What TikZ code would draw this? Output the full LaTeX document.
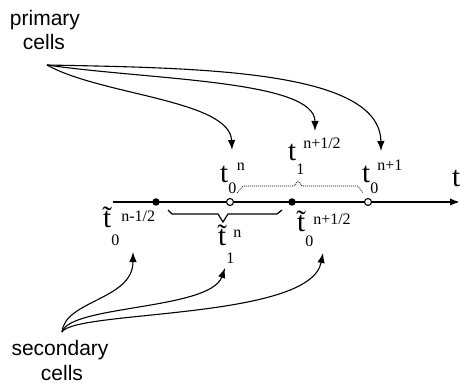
\documentclass[tikz,border=0pt]{standalone}
\usepackage{fontspec}
\setmainfont{Liberation Serif}
\newfontfamily\cellfont{Liberation Sans}
\usetikzlibrary{calc}
\usetikzlibrary{arrows,arrows.meta}
\tikzset{>={Latex[length=10pt,width=7.5pt]}}
\colorlet{axiscol}{black}
\tikzstyle{link}=[black,line width=1.1pt,->]
\newcommand{\bigt}{\fontsize{29}{29}\selectfont}
\newcommand{\idxfont}{\fontsize{16}{16}\selectfont}
\newcommand{\tildet}{\ooalign{t\cr\hidewidth\raisebox{1pt}{˜}\hidewidth\cr}} % t with tilde
% main glyph, subscript, superscript, sub drop, sup raise, kern after sub
\newcommand{\tlab}[6]{#1\raisebox{-#4}{\idxfont #2}\hspace{#6}\raisebox{#5}{\idxfont #3}}

\begin{document}
\begin{tikzpicture}[x=1pt,y=-1pt,
    dot/.style={circle,fill=black,inner sep=0pt,minimum size=7.5pt},
    hollow/.style={circle,draw=black,fill=white,line width=1.1pt,inner sep=0pt,minimum size=7pt},
    tlabel/.style={anchor=base west,inner sep=0pt,font=\bigt},
    cellname/.style={anchor=base,inner sep=0pt,font=\cellfont\fontsize{21}{21}\selectfont},
  ]

  \def\ya{202}     % axis height
  \def\xa{113}     % axis start
  \def\xb{460}     % axis end

  \useasboundingbox (0,0) rectangle (461,385);

  % AXIS
  \draw[->,axiscol,line width=2pt] (\xa,\ya) -- (\xb,\ya);
  \node[tlabel] (tax) at (452,187) {t};

  % POINTS
  \node[dot] (s0) at (156,\ya) {};
  \node[hollow] (p0) at (230,\ya) {};
  \node[dot] (s1) at (292,\ya) {};
  \node[hollow] (p1) at (368,\ya) {};

  % BRACES
  \draw[line width=0.7pt,dash pattern=on 1pt off 1pt]
    (237,193) -- (243,186) -- (294,186) -- (298,181) -- (302,186) -- (358,186) -- (363,193);
  \draw[line width=1.2pt]
    (168,210) -- (172,214) -- (218,214) -- (223,222) -- (228,214) -- (277,214) -- (282,210);

  % LABELS
  \node[tlabel] (t0n)  at (220,183) {\tlab{t}{0}{n}{10pt}{13pt}{0.5pt}};
  \node[tlabel] (t1h)  at (288,161) {\tlab{t}{1}{n+1/2}{14pt}{13pt}{-1pt}};
  \node[tlabel] (t0n1) at (362,183) {\tlab{t}{0}{n+1}{10pt}{13pt}{-1pt}};
  \node[tlabel] (u0a)  at (103,228) {\tlab{\tildet}{0}{n-1/2}{18pt}{6pt}{2pt}};
  \node[tlabel] (u1n)  at (218,245) {\tlab{\tildet}{1}{n}{18pt}{8pt}{-1pt}};
  \node[tlabel] (u0b)  at (297,232) {\tlab{\tildet}{0}{n+1/2}{15pt}{7pt}{0pt}};

  % PRIMARY CELLS
  \node[cellname] (prim)  at (45,26) {primary};
  \node[cellname] (primc) at (44,50) {cells};
  \coordinate (pfan) at (47,65);
  \coordinate (pa) at (232,150);
  \coordinate (pb) at (315,131);
  \coordinate (pc) at (381,151);
  \draw[link] (pfan) .. controls (100,95) and (230,100) .. (pa);
  \draw[link] (pfan) .. controls (150,80) and (315,80) .. (pb);
  \draw[link] (pfan) .. controls (200,68) and (380,70) .. (pc);

  % SECONDARY CELLS
  \node[cellname] (sec)  at (60,355) {secondary};
  \node[cellname] (secc) at (62,380) {cells};
  \coordinate (sfan) at (62,332);
  \coordinate (sa) at (133,252);
  \coordinate (sb) at (225,268);
  \coordinate (sc) at (323,253);
  \draw[link] (sfan) .. controls (65,300) and (133,300) .. (sa);
  \draw[link] (sfan) .. controls (70,305) and (210,310) .. (sb);
  \draw[link] (sfan) .. controls (75,310) and (310,320) .. (sc);

\end{tikzpicture}
\end{document}
